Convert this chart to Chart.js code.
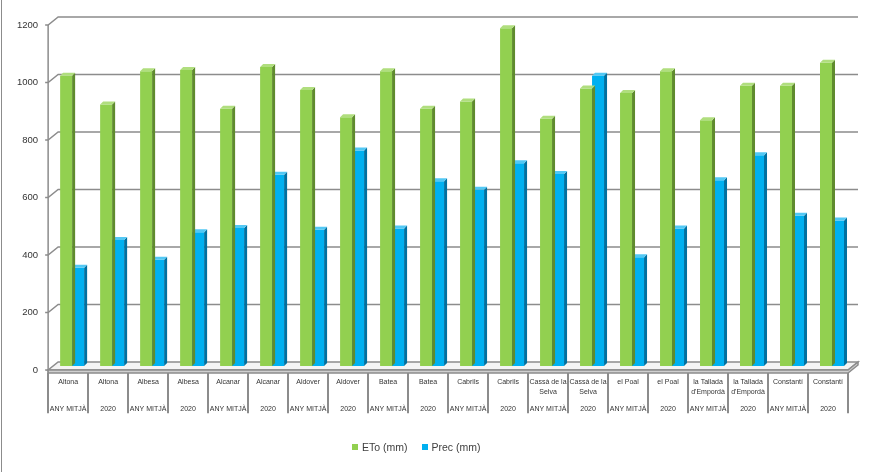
<!DOCTYPE html>
<html lang="ca">
<head>
    <meta charset="UTF-8">
    <title>ETo i precipitació</title>
    <script src="https://cdn.jsdelivr.net/npm/chart.js"></script>
    <style>
        body {
            margin: 0;
            background: #fff;
            font-family: 'Liberation Sans', Arial, sans-serif;
        }
        #marco {
            position: relative;
            width: 883px;
            height: 472px;
        }
        #vora {
            position: absolute;
            left: 1px; top: 0;
            width: 1px; height: 472px;
            background: #8c8c8c;
        }
        #llegenda {
            position: absolute;
            left: 352px;
            top: 441px;
            font-size: 10.5px;
            color: #404040;
            display: flex;
            gap: 14px;
        }
        #llegenda span.caixa {
            display: inline-block;
            width: 6px; height: 6px;
            margin-right: 4px;
            vertical-align: 1px;
        }
    </style>
</head>
<body>
<div id="marco">
    <canvas id="grafica"></canvas>
    <div id="vora"></div>
    <div id="llegenda"></div>
</div>

<script>
    // Dades llegides del gràfic
    const ciutats = ['Altona', 'Altona', 'Albesa', 'Albesa', 'Alcanar', 'Alcanar', 'Aldover', 'Aldover',
        'Batea', 'Batea', 'Cabrils', 'Cabrils', ['Cassà de la', 'Selva'], ['Cassà de la', 'Selva'],
        'el Poal', 'el Poal', ['la Tallada', "d'Empordà"], ['la Tallada', "d'Empordà"], 'Constantí', 'Constantí'];
    const periodes = ['ANY MITJÀ', '2020', 'ANY MITJÀ', '2020', 'ANY MITJÀ', '2020', 'ANY MITJÀ', '2020',
        'ANY MITJÀ', '2020', 'ANY MITJÀ', '2020', 'ANY MITJÀ', '2020', 'ANY MITJÀ', '2020',
        'ANY MITJÀ', '2020', 'ANY MITJÀ', '2020'];
    const eto = [1010, 910, 1025, 1030, 895, 1040, 960, 865, 1025, 895,
        920, 1175, 860, 965, 950, 1025, 855, 975, 975, 1055];
    const prec = [342, 438, 370, 465, 480, 665, 474, 750, 478, 643,
        613, 705, 668, 1010, 378, 478, 646, 733, 523, 506];
    const marquesY = [0, 200, 400, 600, 800, 1000, 1200];

    // desplaçaments per fer l'efecte 3D
    const FONS = { dx: 10, dy: -8 };   // paret del fons
    const MIG = { dx: 4, dy: -4 };     // pla de les barres
    const GRUIX = 3;                   // profunditat de cada barra
    const GRIS = '#8c8c8c';
    const LLETRA = "'Liberation Sans', Arial, sans-serif";

    const colors = [
        { cara: '#92d050', costat: '#5f8b2e', sostre: '#b0de7e' },
        { cara: '#00b0f0', costat: '#0070a0', sostre: '#52c8f4' }
    ];

    const efecte3d = {
        id: 'efecte3d',
        beforeDatasetsDraw(chart) {
            const ctx = chart.ctx;
            const y = chart.scales.y;
            const L = chart.chartArea.left, R = chart.chartArea.right;
            const B = y.getPixelForValue(marquesY[0]);
            ctx.save();
            ctx.strokeStyle = GRIS;
            ctx.lineWidth = 1.5;
            // línies de la paret del fons
            marquesY.slice(1).forEach(v => {
                const yp = y.getPixelForValue(v);
                ctx.beginPath();
                ctx.moveTo(L - 3, yp);
                ctx.lineTo(L, yp);
                ctx.lineTo(L + FONS.dx, yp + FONS.dy);
                ctx.lineTo(R + FONS.dx, yp + FONS.dy);
                ctx.stroke();
            });
            // eix frontal
            ctx.beginPath();
            ctx.moveTo(L, y.getPixelForValue(marquesY[marquesY.length - 1]));
            ctx.lineTo(L, B + GRUIX);
            ctx.moveTo(L - 3, B);
            ctx.lineTo(L, B);
            ctx.stroke();
            // terra
            ctx.fillStyle = '#f4f4f4';
            ctx.beginPath();
            ctx.moveTo(L, B);
            ctx.lineTo(R, B);
            ctx.lineTo(R + FONS.dx, B + FONS.dy);
            ctx.lineTo(L + FONS.dx, B + FONS.dy);
            ctx.closePath();
            ctx.fill();
            ctx.stroke();
            ctx.fillStyle = '#d0d0d0';
            ctx.beginPath();
            ctx.moveTo(L, B);
            ctx.lineTo(R, B);
            ctx.lineTo(R + FONS.dx, B + FONS.dy);
            ctx.lineTo(R + FONS.dx, B + FONS.dy + GRUIX);
            ctx.lineTo(R, B + GRUIX);
            ctx.lineTo(L, B + GRUIX);
            ctx.closePath();
            ctx.fill();
            ctx.stroke();
            ctx.restore();

            ctx.save();
            ctx.translate(MIG.dx, MIG.dy);
        },
        afterDatasetDraw(chart, args) {
            const ctx = chart.ctx;
            const c = colors[args.index];
            args.meta.data.forEach(bar => {
                const p = bar.getProps(['x', 'y', 'base', 'width'], true);
                const x0 = p.x - p.width / 2, x1 = p.x + p.width / 2;
                // costat
                ctx.fillStyle = c.costat;
                ctx.beginPath();
                ctx.moveTo(x1, p.y);
                ctx.lineTo(x1 + GRUIX, p.y - GRUIX);
                ctx.lineTo(x1 + GRUIX, p.base - GRUIX);
                ctx.lineTo(x1, p.base);
                ctx.closePath();
                ctx.fill();
                // sostre
                ctx.fillStyle = c.sostre;
                ctx.beginPath();
                ctx.moveTo(x0, p.y);
                ctx.lineTo(x0 + GRUIX, p.y - GRUIX);
                ctx.lineTo(x1 + GRUIX, p.y - GRUIX);
                ctx.lineTo(x1, p.y);
                ctx.closePath();
                ctx.fill();
            });
        },
        afterDatasetsDraw(chart) {
            chart.ctx.restore();
        },
        afterDraw(chart) {
            // separadors de les etiquetes
            const ctx = chart.ctx;
            const x = chart.scales.x;
            const B = chart.scales.y.getPixelForValue(marquesY[0]);
            const fons = chart.scales.x2.bottom;
            ctx.save();
            ctx.strokeStyle = GRIS;
            ctx.lineWidth = 2;
            for (let i = 0; i <= ciutats.length; i++) {
                const xs = Math.round(x.getPixelForValue(i - 0.5));
                ctx.beginPath();
                ctx.moveTo(xs, B + GRUIX);
                ctx.lineTo(xs, fons);
                ctx.stroke();
            }
            ctx.restore();
        }
    };

    const ctx = document.getElementById('grafica').getContext('2d');
    const grafica = new Chart(ctx, {
        type: 'bar',
        data: {
            labels: ciutats,
            datasets: [
                { label: 'ETo (mm)', data: eto, backgroundColor: colors[0].cara },
                { label: 'Prec (mm)', data: prec, backgroundColor: colors[1].cara }
            ]
        },
        options: {
            responsive: true,
            maintainAspectRatio: false,
            animation: false,
            layout: { padding: { left: 7, right: 35, top: 25, bottom: 58.7 } },
            datasets: { bar: { categoryPercentage: 0.6, barPercentage: 1.0 } },
            plugins: {
                legend: { display: false },
                tooltip: { enabled: false }
            },
            scales: {
                x: {
                    grid: { display: false, drawTicks: false },
                    border: { display: false },
                    ticks: {
                        autoSkip: false, maxRotation: 0, minRotation: 0, padding: 8,
                        color: '#333',
                        font: { family: LLETRA, size: 7, lineHeight: 1.3 }
                    }
                },
                x2: {
                    type: 'category',
                    labels: periodes,
                    position: 'bottom',
                    offset: true,
                    grid: { display: false, drawTicks: false },
                    border: { display: false },
                    ticks: {
                        autoSkip: false, maxRotation: 0, minRotation: 0, padding: 0,
                        color: '#333',
                        font: { family: LLETRA, size: 7, lineHeight: 1.3 }
                    }
                },
                y: {
                    min: marquesY[0],
                    max: marquesY[marquesY.length - 1],
                    grid: { display: false, drawTicks: false },
                    border: { display: false },
                    ticks: {
                        stepSize: marquesY[1] - marquesY[0],
                        padding: 10,
                        color: '#333',
                        font: { family: LLETRA, size: 9.5 },
                        callback: v => String(v)
                    }
                }
            }
        },
        plugins: [efecte3d]
    });

    // llegenda
    const llegenda = document.getElementById('llegenda');
    grafica.data.datasets.forEach(ds => {
        const item = document.createElement('span');
        const caixa = document.createElement('span');
        caixa.className = 'caixa';
        caixa.style.background = ds.backgroundColor;
        item.appendChild(caixa);
        item.appendChild(document.createTextNode(ds.label));
        llegenda.appendChild(item);
    });
</script>
</body>
</html>
